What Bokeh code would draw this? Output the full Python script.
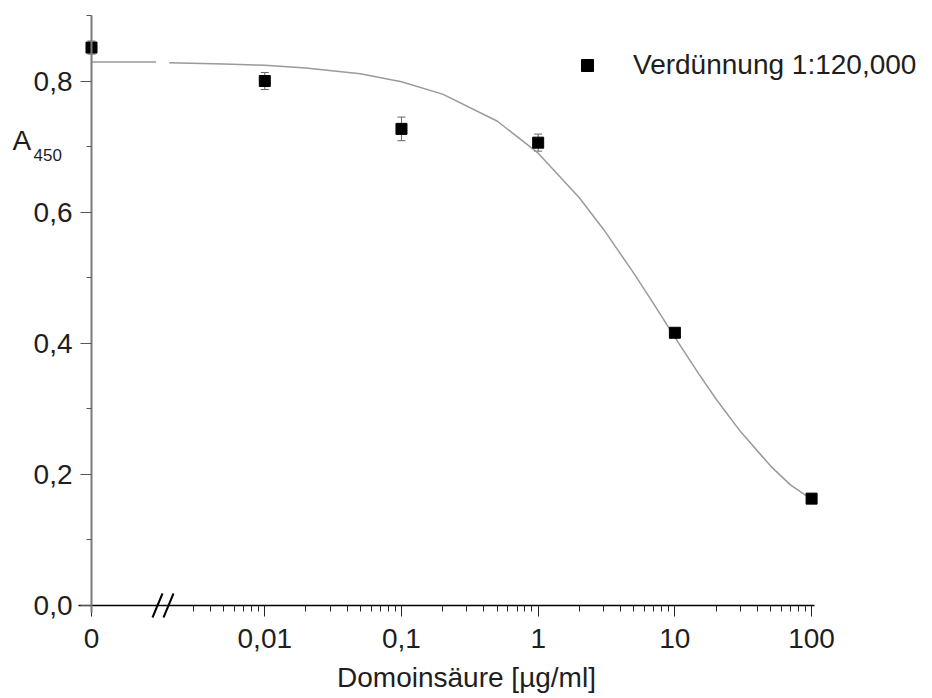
import numpy as np
from bokeh.plotting import figure
from bokeh.models import (Range1d, FixedTicker, CustomJSTickFormatter, ColumnDataSource,
                          Whisker, TeeHead, Legend, LegendItem, Label, Arrow)
from bokeh.embed import file_html
from bokeh.resources import INLINE

# ---------------- data ----------------
conc = [0, 0.01, 0.1, 1, 10, 100]                      # Domoinsäure [µg/ml]
a450 = [0.851, 0.800, 0.727, 0.706, 0.416, 0.163]      # A450
a450_err = [0.010, 0.013, 0.018, 0.013, 0.004, 0.004]

# fitted curve; split at the axis break
fit_conc_before_break = [0, 0.0016]
fit_a450_before_break = [0.829, 0.829]
fit_conc = [0.002, 0.005, 0.01, 0.02, 0.05, 0.1, 0.2, 0.5, 1, 2, 3, 5, 7,
            10, 15, 20, 30, 50, 70, 100]
fit_a450 = [0.828, 0.826, 0.824, 0.820, 0.811, 0.799, 0.780, 0.739, 0.690, 0.622,
            0.574, 0.507, 0.460, 0.409, 0.353, 0.315, 0.266, 0.213, 0.184, 0.162]

x_tick_values = [0, 0.01, 0.1, 1, 10, 100]
y_tick_values = [0.0, 0.2, 0.4, 0.6, 0.8]
y_minor_values = [0.1, 0.3, 0.5, 0.7, 0.9]
series_name = "Verdünnung 1:120,000"
x_title = "Domoinsäure [µg/ml]"
y_title_main = "A"
y_title_sub = "450"

# ---------------- layout constants (pixels) ----------------
W, H = 932, 698
ZERO_AT = 5.4e-4          # where concentration 0 sits on the broken log axis
ZERO_PX = 91              # screen x of that position (the y axis)
PX_PER_DEC = 136.7        # pixels per decade on the x axis
Y0_PX = 605               # screen y of A450 = 0
PX_PER_UNIT = 655.6       # pixels per unit of A450
FONT = "Liberation Sans"
TXT = "#1e1e1e"
FS = "28px"


def xpos(vals):
    return [ZERO_AT if c == 0 else c for c in vals]


def shift(x, px):
    return x * 10 ** (px / PX_PER_DEC)


def y_at(px):
    return (Y0_PX - px) / PX_PER_UNIT


x_lo = shift(ZERO_AT, -ZERO_PX)
x_hi = shift(ZERO_AT, W - ZERO_PX)
y_lo = y_at(H)
y_hi = y_at(0)

x_minor = [k * 10.0 ** e for e in (-3, -2, -1, 0, 1) for k in range(2, 10)]
x_minor = [m for m in x_minor if m >= 0.0029]

p = figure(width=W, height=H, x_axis_type="log",
           x_range=Range1d(x_lo, x_hi), y_range=Range1d(y_lo, y_hi),
           output_backend="svg", toolbar_location=None,
           min_border=0)
p.grid.visible = False
p.outline_line_color = None
p.background_fill_color = "white"
p.border_fill_color = "white"

# ---- y axis (drawn at concentration 0) ----
ya = p.yaxis[0]
ya.fixed_location = ZERO_AT
ya.bounds = (-0.011, 0.9)
ya.ticker = FixedTicker(ticks=y_tick_values, minor_ticks=y_minor_values)
ya.formatter = CustomJSTickFormatter(code="return tick.toFixed(1).replace('.', ',');")
ya.axis_line_color = "#7a7a7a"
ya.axis_line_width = 2
ya.major_tick_out = 11
ya.major_tick_in = 0
ya.minor_tick_out = 5
ya.minor_tick_in = 0
ya.major_tick_line_color = "#555555"
ya.minor_tick_line_color = "#555555"
ya.major_label_standoff = 8
ya.major_label_text_font = FONT
ya.major_label_text_font_size = FS
ya.major_label_text_color = TXT

# ---- x axis (drawn at A450 = 0) ----
xa = p.xaxis[0]
xa.fixed_location = 0
xa.bounds = (shift(ZERO_AT, -13), 105)
xa.ticker = FixedTicker(ticks=xpos(x_tick_values), minor_ticks=x_minor)
xa.formatter = CustomJSTickFormatter(
    code="if (tick < 0.001) { return '0'; } return String(tick).replace('.', ',');")
xa.axis_line_color = "black"
xa.axis_line_width = 1.5
xa.major_tick_out = 11
xa.major_tick_in = 0
xa.minor_tick_out = 6
xa.minor_tick_in = 0
xa.major_tick_line_color = "#222222"
xa.minor_tick_line_color = "#222222"
xa.major_label_standoff = 12
xa.major_label_text_font = FONT
xa.major_label_text_font_size = FS
xa.major_label_text_color = TXT

# x title (centred where the reference puts it)
p.add_layout(Label(x=466, y=y_at(677), x_units="screen", y_units="data", text=x_title,
                   text_font=FONT, text_font_size=FS, text_color=TXT,
                   text_baseline="alphabetic", text_align="center"))

# ---- axis break marks "//" ----
for off in (66, 77):
    c = shift(ZERO_AT, off)
    p.add_layout(Arrow(end=None, x_start=shift(c, -5), y_start=-12 / PX_PER_UNIT,
                       x_end=shift(c, 5), y_end=12 / PX_PER_UNIT,
                       line_color="black", line_width=2))

# ---- fitted curve ----
p.line(xpos(fit_conc_before_break), fit_a450_before_break, line_color="#9a9a9a", line_width=1.5)
p.line(fit_conc, fit_a450, line_color="#9a9a9a", line_width=1.5)

# ---- error bars ----
src = ColumnDataSource(dict(
    base=xpos(conc),
    lower=[v - e for v, e in zip(a450, a450_err)],
    upper=[v + e for v, e in zip(a450, a450_err)],
))
p.add_layout(Whisker(base="base", lower="lower", upper="upper", source=src,
                     dimension="height", line_color="#666666", line_width=1,
                     upper_head=TeeHead(size=8, line_color="#666666", line_width=1),
                     lower_head=TeeHead(size=8, line_color="#666666", line_width=1),
                     level="underlay"))

# ---- data points ----
r = p.scatter(xpos(conc), a450, marker="square", size=11,
              fill_color="black", line_color="black")

# ---- legend ----
legend = Legend(items=[LegendItem(label=series_name, renderers=[r])],
                location=(572, H - 81), glyph_width=30, glyph_height=30,
                label_height=30, label_standoff=31, padding=0, margin=0,
                border_line_color=None, background_fill_alpha=0,
                label_text_font=FONT, label_text_font_size=FS,
                label_text_color=TXT)
p.add_layout(legend)

# ---- y title A_450 ----
p.add_layout(Label(x=12, y=y_at(140), x_units="screen", y_units="data", text=y_title_main,
                   text_font=FONT, text_font_size=FS, text_color=TXT,
                   text_baseline="alphabetic", text_align="left"))
p.add_layout(Label(x=33, y=y_at(154), x_units="screen", y_units="data", text=y_title_sub,
                   text_font=FONT, text_font_size="17px", text_color=TXT,
                   text_baseline="alphabetic", text_align="left"))

open("out.html", "w").write(file_html(p, INLINE))
